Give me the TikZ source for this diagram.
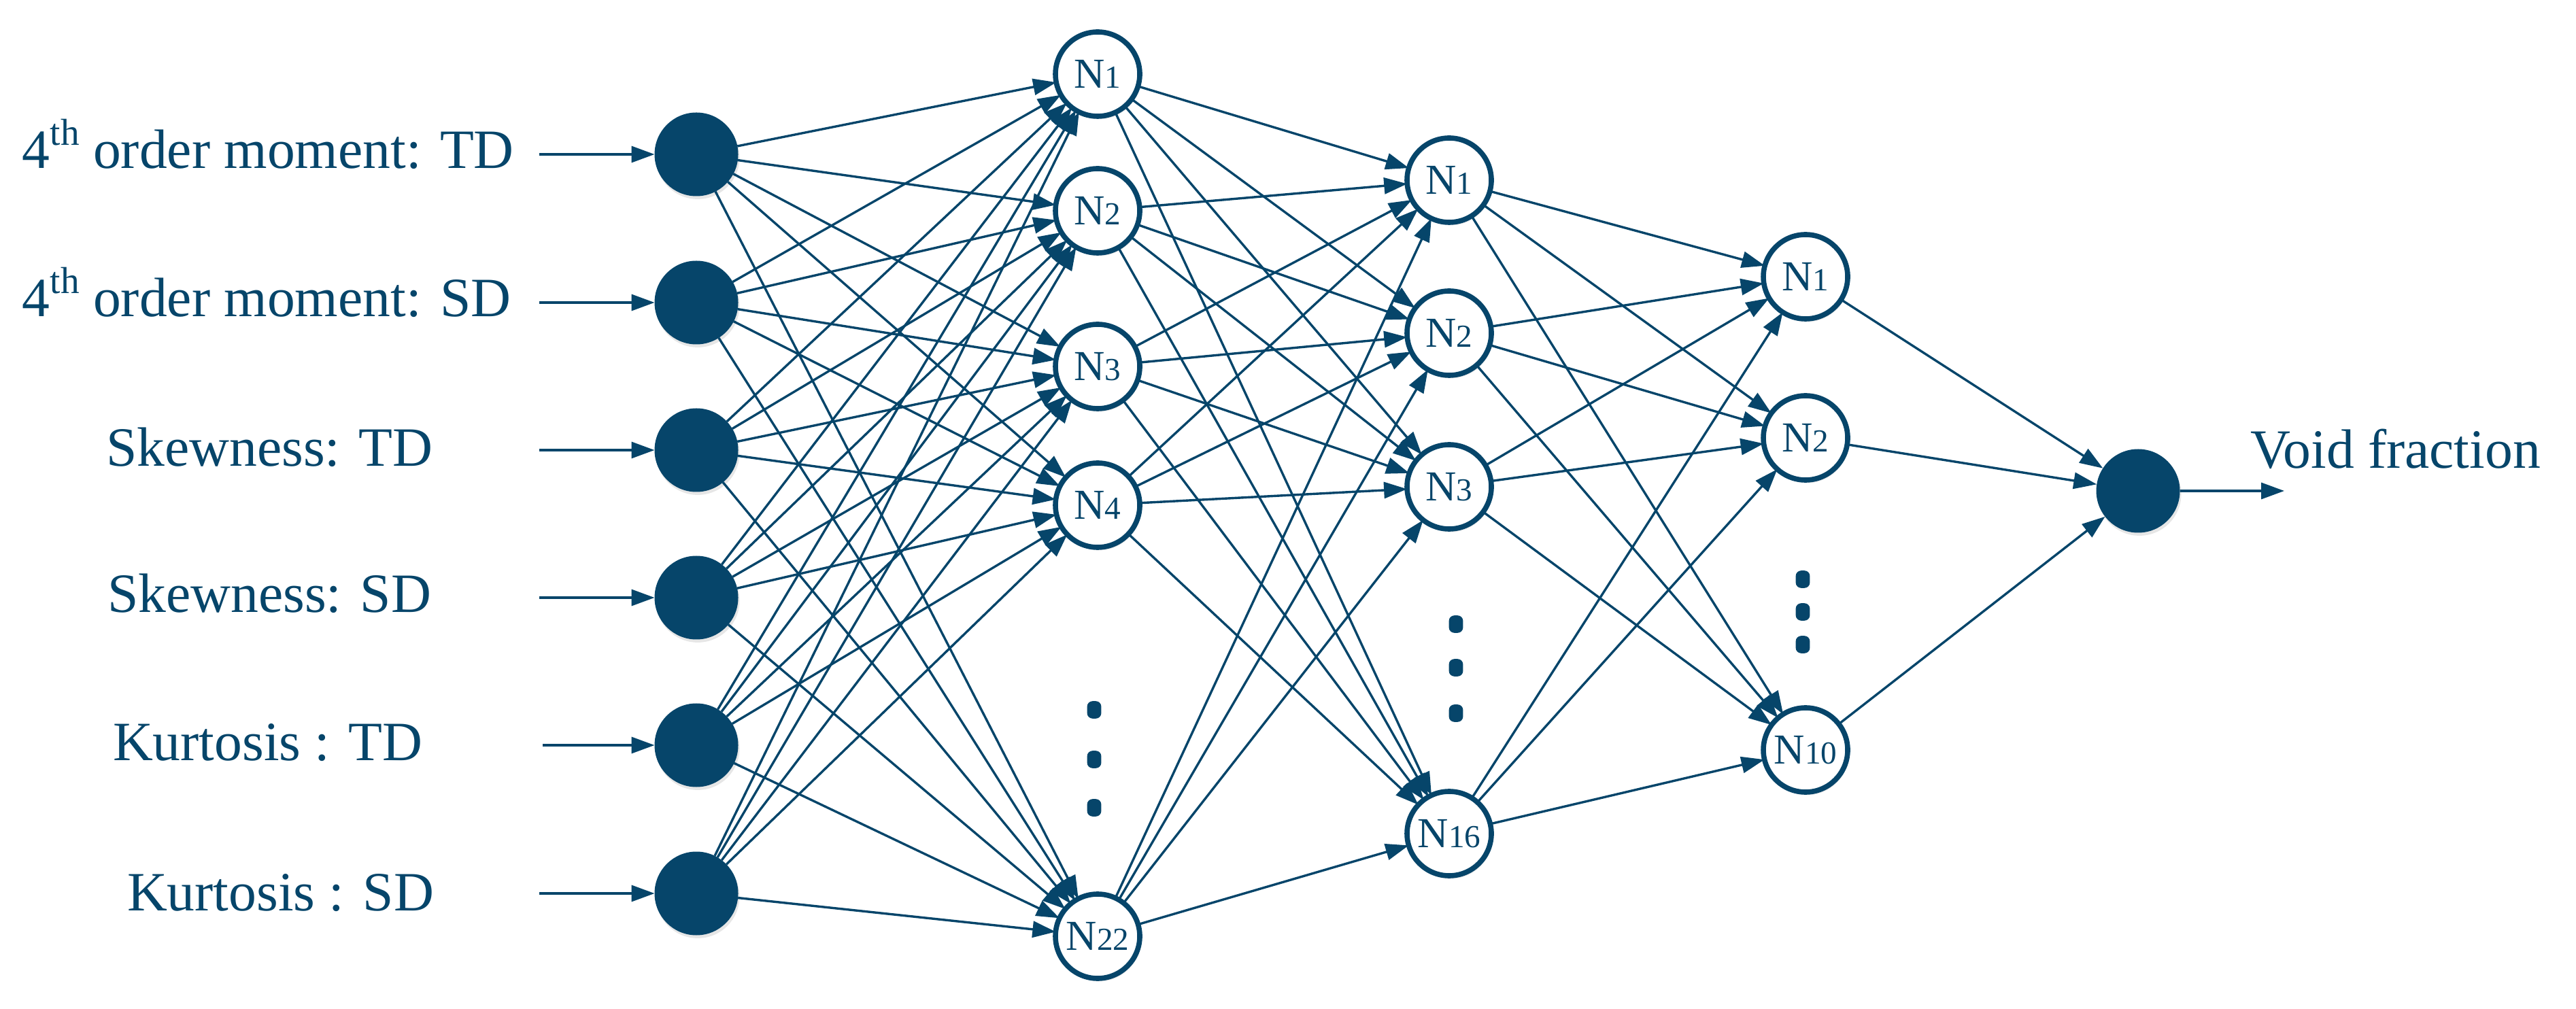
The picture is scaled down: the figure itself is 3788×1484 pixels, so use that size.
\documentclass[tikz,border=0pt]{standalone}
\usepackage{fontspec}
\setmainfont{Liberation Serif}
\usetikzlibrary{arrows.meta,shadows}
\definecolor{nnblue}{HTML}{06456A}
\newcommand{\nlab}[1]{{\fontsize{15.7}{18}\selectfont N}{\fontsize{11.8}{14}\selectfont #1}}
\newcommand{\thsup}{\raisebox{8.7pt}{\fontsize{13.8}{16}\selectfont th}}
\begin{document}
\begin{tikzpicture}[x=0.25pt,y=-0.25pt,
  every node/.style={inner sep=0pt, outer sep=0pt},
  lab/.style={anchor=base west, text=nnblue, font=\fontsize{20.4}{24}\selectfont},
  shad/.style={drop shadow={shadow xshift=0.5pt, shadow yshift=-1.1pt, opacity=0.22, fill=black!45}},
  inp/.style={circle, fill=nnblue, minimum size=30.75pt, shad},
  hid/.style={circle, draw=nnblue, line width=1.9pt, fill=white, minimum size=31pt, text=nnblue, shad},
  dotbox/.style={rectangle, fill=nnblue, rounded corners=2pt, minimum width=5.2pt, minimum height=6.4pt},
  conn/.style={draw=nnblue, line width=0.85pt, -{Triangle[length=8.5pt,width=6pt]}}
]
\useasboundingbox (0,0) rectangle (3788,1484);

% input labels
\node[lab] (l1) at (33,248) {4\thsup{} order moment: TD};
\node[lab] (l2) at (33,466) {4\thsup{} order moment: SD};
\node[lab] (l3) at (156,686) {Skewness: TD};
\node[lab] (l4) at (158,901) {Skewness: SD};
\node[lab] (l5) at (166,1119) {Kurtosis : TD};
\node[lab] (l6) at (187,1339) {Kurtosis : SD};

% input nodes
\node[inp] (i1) at (1024,227) {};
\node[inp] (i2) at (1024,445) {};
\node[inp] (i3) at (1024,662) {};
\node[inp] (i4) at (1024,879) {};
\node[inp] (i5) at (1024,1096) {};
\node[inp] (i6) at (1024,1314) {};

% arrow starts
\coordinate (s1) at (793,227);
\coordinate (s2) at (793,445);
\coordinate (s3) at (793,662);
\coordinate (s4) at (793,879);
\coordinate (s5) at (798,1096);
\coordinate (s6) at (793,1314);

% hidden layer 1
\node[hid] (a1) at (1614,109) {\nlab{1}};
\node[hid] (a2) at (1614,310) {\nlab{2}};
\node[hid] (a3) at (1614,539) {\nlab{3}};
\node[hid] (a4) at (1614,743) {\nlab{4}};
\node[hid] (a5) at (1614,1377) {\nlab{22}};

% hidden layer 2
\node[hid] (b1) at (2131,265) {\nlab{1}};
\node[hid] (b2) at (2131,490) {\nlab{2}};
\node[hid] (b3) at (2131,716) {\nlab{3}};
\node[hid] (b4) at (2131,1226) {\nlab{16}};

% hidden layer 3
\node[hid] (c1) at (2655,407) {\nlab{1}};
\node[hid] (c2) at (2655,644) {\nlab{2}};
\node[hid] (c3) at (2655,1103) {\nlab{10}};

% output
\node[inp] (o) at (3144,722) {};
\coordinate (oe) at (3359,722);
\node[lab] (vf) at (3309,689) {Void fraction};

% dots
\node[dotbox] (d11) at (1609,1044) {};
\node[dotbox] (d12) at (1609,1117) {};
\node[dotbox] (d13) at (1609,1188) {};
\node[dotbox] (d21) at (2141,918) {};
\node[dotbox] (d22) at (2141,982) {};
\node[dotbox] (d23) at (2141,1049) {};
\node[dotbox] (d31) at (2651,852) {};
\node[dotbox] (d32) at (2651,900) {};
\node[dotbox] (d33) at (2651,948) {};

% connections
\foreach \k in {1,...,6} \draw[conn] (s\k) -- (i\k);
\foreach \k in {1,...,6} \foreach \j in {1,...,5} \draw[conn] (i\k) -- (a\j);
\foreach \k in {1,...,5} \foreach \j in {1,...,4} \draw[conn] (a\k) -- (b\j);
\foreach \k in {1,...,4} \foreach \j in {1,...,3} \draw[conn] (b\k) -- (c\j);
\foreach \k in {1,...,3} \draw[conn] (c\k) -- (o);
\draw[conn] (o) -- (oe);
\end{tikzpicture}
\end{document}
